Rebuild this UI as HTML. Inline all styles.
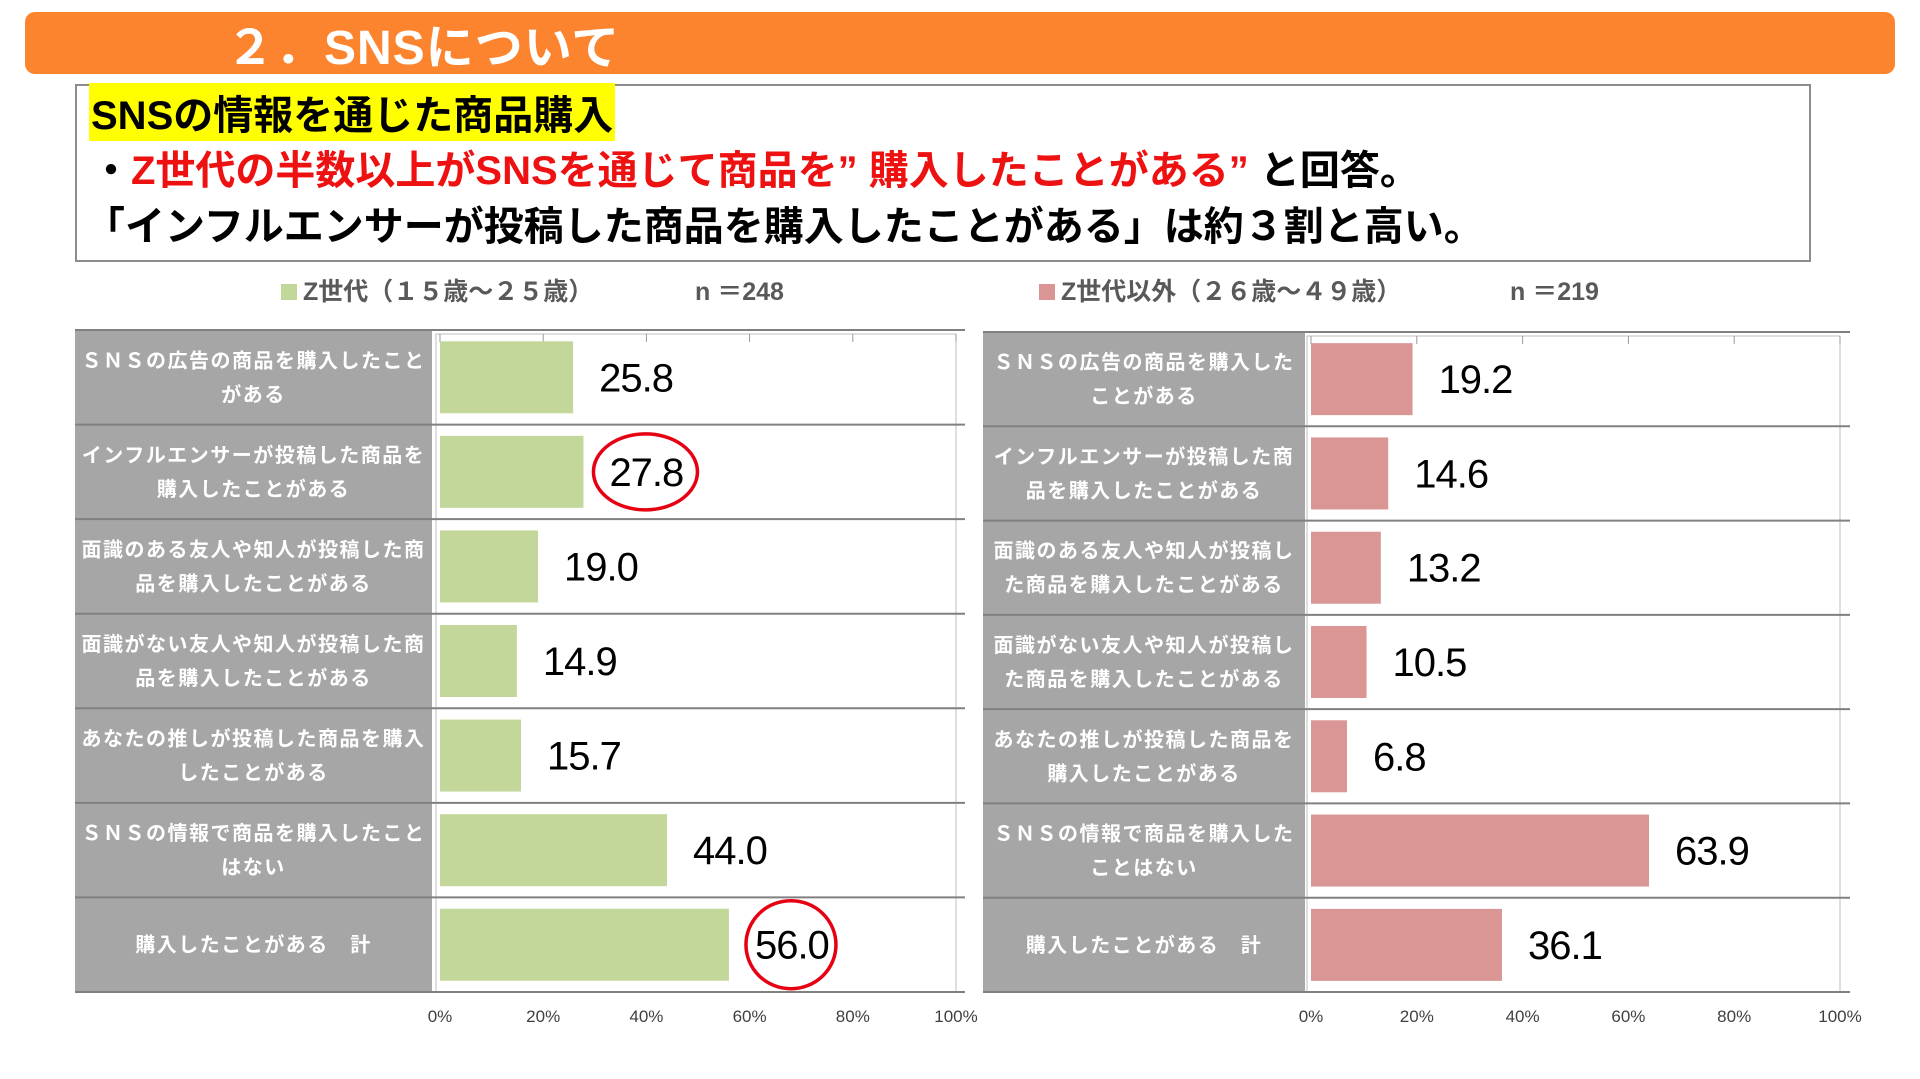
<!DOCTYPE html>
<html><head><meta charset="utf-8">
<style>
body{margin:0;width:1920px;height:1079px;background:#fff;overflow:hidden;font-family:"Liberation Sans","Noto Sans CJK JP",sans-serif;}
#bar{position:absolute;left:25px;top:12px;width:1870px;height:62px;background:#FD842F;border-radius:10px;}
#title{position:absolute;left:226px;top:8px;font-size:48px;font-weight:bold;color:#fff;letter-spacing:1px;}
#box{position:absolute;left:75px;top:84px;width:1732px;height:174px;border:2px solid #8c8c8c;}
.l{position:absolute;left:14px;font-size:40px;font-weight:bold;white-space:nowrap;}
svg{position:absolute;left:0;top:0;}
</style></head><body>
<div id="bar"></div>
<div id="title">２．SNSについて</div>
<div id="box">
<div class="l" style="top:-3px;left:12px;background:#FFFF00;padding:0 2px;">SNSの情報を通じた商品購入</div>
<div class="l" style="top:52px;">・<span style="color:#EE1111">Z世代の半数以上がSNSを通じて商品を” 購入したことがある”</span> と回答。</div>
<div class="l" style="top:108px;left:8px;">「インフルエンサーが投稿した商品を購入したことがある」は約３割と高い。</div>
</div>
<svg id="chart" width="1920" height="1079"></svg>
<script>
const categoriesLeft=["ＳＮＳの広告の商品を購入したこと|がある","インフルエンサーが投稿した商品を|購入したことがある","面識のある友人や知人が投稿した商|品を購入したことがある","面識がない友人や知人が投稿した商|品を購入したことがある","あなたの推しが投稿した商品を購入|したことがある","ＳＮＳの情報で商品を購入したこと|はない","購入したことがある　計"];
const categoriesRight=["ＳＮＳの広告の商品を購入した|ことがある","インフルエンサーが投稿した商|品を購入したことがある","面識のある友人や知人が投稿し|た商品を購入したことがある","面識がない友人や知人が投稿し|た商品を購入したことがある","あなたの推しが投稿した商品を|購入したことがある","ＳＮＳの情報で商品を購入した|ことはない","購入したことがある　計"];
const valuesGenZ=[25.8,27.8,19.0,14.9,15.7,44.0,56.0];
const valuesOther=[19.2,14.6,13.2,10.5,6.8,63.9,36.1];
const tickLabels=["0%","20%","40%","60%","80%","100%"];
const tickValues=[0,20,40,60,80,100];
const circledGenZ=[1,6];
const legendLeft="Z世代（１５歳～２５歳）";
const legendRight="Z世代以外（２６歳～４９歳）";

const svg=document.getElementById('chart');
const NS="http://www.w3.org/2000/svg";
function mk(tag,attrs,parent){const e=document.createElementNS(NS,tag);for(const k in attrs)e.setAttribute(k,attrs[k]);(parent||svg).appendChild(e);return e;}

function drawChart(cfg){
  const g=mk('g',{});
  
  
  const n=cfg.cats.length;
  const rowH=(cfg.bottom-cfg.top)/n;
  const xs=v=>cfg.x0+(cfg.x100-cfg.x0)*v/100;
  const panel=mk('rect',{x:cfg.pl,y:cfg.top,width:cfg.pr-cfg.pl,height:cfg.bottom-cfg.top,fill:'#A6A6A6'},g);
  
  
  const frame=mk('rect',{x:cfg.x0-4,y:cfg.top+4,width:cfg.x100-cfg.x0+4,height:cfg.bottom-cfg.top-4,fill:'none',stroke:'#BFBFBF','stroke-width':1},g);
  
  
  tickValues.forEach((t,i)=>{
    const tk=mk('line',{x1:xs(t),x2:xs(t),y1:cfg.top+4,y2:cfg.top+12,stroke:'#999'},g);
    
    
    const tl=mk('text',{x:xs(t),y:cfg.bottom+30,'text-anchor':'middle','font-size':17,fill:'#404040'},g);
    tl.textContent=tickLabels[i];
    
    
  });
  for(let i=0;i<=n;i++){
    const y=cfg.top+i*rowH;
    const ln=mk('line',{x1:cfg.pl,x2:cfg.lr,y1:y,y2:y,stroke:'#808080','stroke-width':2},g);
    
    
  }
  cfg.cats.forEach((c,i)=>{
    const cy=cfg.top+i*rowH+rowH/2;
    const lines=c.split('|');
    lines.forEach((s,j)=>{
      const t=mk('text',{x:(cfg.pl+cfg.pr)/2,y:cy+7+(j-(lines.length-1)/2)*34,'text-anchor':'middle','font-size':20,'font-weight':'bold',fill:'#fff','letter-spacing':1.5},g);
      t.textContent=s;
      
      
    });
    const v=cfg.vals[i];
    const b=mk('rect',{x:xs(0),y:cy-36,width:xs(v)-xs(0),height:72,fill:cfg.color},g);
    
    
    const vl=mk('text',{x:xs(v)+26,y:cy+14,'font-size':40,'font-family':'"Liberation Sans Narrow","Liberation Sans",sans-serif',fill:'#000',style:'letter-spacing:-1px'},g);
    vl.textContent=v.toFixed(1);
    
    
    if(cfg.circ && cfg.circ.includes(i)){
      const ce=mk('ellipse',{cx:xs(v)+62,cy:cy,rx:i==6?45:52,ry:i==6?44:38,fill:'none',stroke:'#E60012','stroke-width':3.5},g);
      
      
    }
  });
  const sq=mk('rect',{x:cfg.lx,y:284,width:16,height:16,fill:cfg.color},g);
  
  
  const lt=mk('text',{x:cfg.lx+22,y:300,'font-size':25,'font-weight':'bold',fill:'#595959'},g);
  lt.textContent=cfg.legend;
  
  
  const nt=mk('text',{x:cfg.nx,y:300,'font-size':25,'font-weight':'bold',fill:'#595959'},g);
  nt.textContent=cfg.n;
  
  
}
drawChart({name:'chart-genz',cats:categoriesLeft,vals:valuesGenZ,color:'#C4D79B',pl:75,pr:432,x0:440,x100:956,lr:965,top:330,bottom:992,circ:circledGenZ,legend:legendLeft,n:'n ＝248',lx:281,nx:695});
drawChart({name:'chart-non-genz',cats:categoriesRight,vals:valuesOther,color:'#D99694',pl:983,pr:1305,x0:1311,x100:1840,lr:1850,top:332,bottom:992,circ:null,legend:legendRight,n:'n ＝219',lx:1039,nx:1510});
</script>
</body></html>
